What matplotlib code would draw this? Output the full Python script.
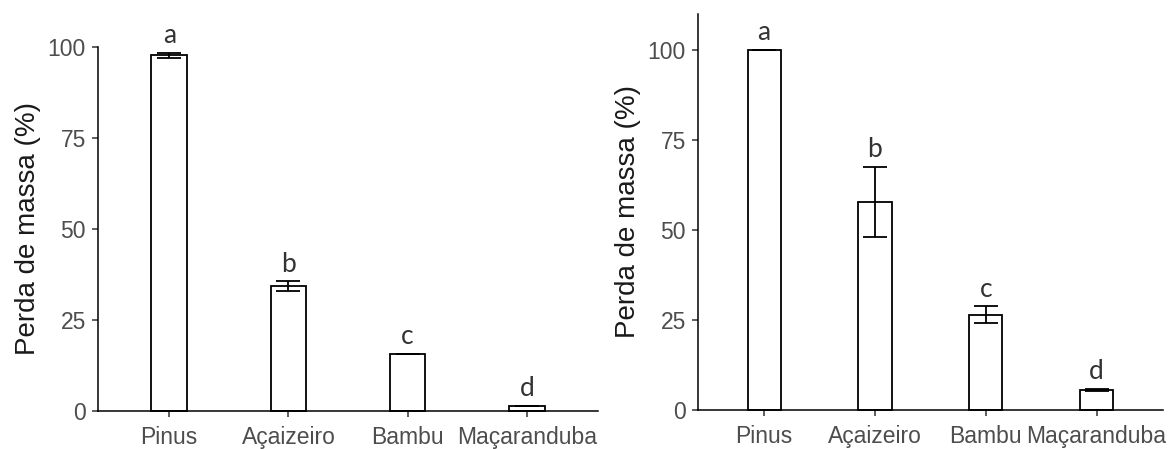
import matplotlib.pyplot as plt
import numpy as np

# data
categorias = ["Pinus", "Açaizeiro", "Bambu", "Maçaranduba"]
letras = ["a", "b", "c", "d"]

perda_esq = [97.6, 34.3, 15.6, 1.4]
erro_esq = [0.8, 1.3, 0.0, 0.0]

perda_dir = [100.0, 57.8, 26.5, 5.5]
erro_dir = [0.0, 9.8, 2.3, 0.3]

yticks = [0, 25, 50, 75, 100]

W, H = 1171, 449
fig = plt.figure(figsize=(W / 100, H / 100), dpi=100)

# panel boxes in pixels (left, top, right, bottom)
ax_esq = fig.add_axes([97.7 / W, (H - 411) / H, (598.3 - 97.7) / W, (411 - 46.7) / H])
ax_dir = fig.add_axes([697.7 / W, (H - 410) / H, (1163 - 697.7) / W, (410 - 14) / H])


def painel(ax, medias, erros, ymax):
    x = np.arange(len(categorias))
    ax.bar(x, medias, width=0.3, color="white", edgecolor="black",
           linewidth=1.3, zorder=2, clip_on=False)
    ax.errorbar(x, medias, yerr=erros, fmt="none", ecolor="black",
                elinewidth=1.3, capsize=8.3, capthick=1.3, zorder=3, clip_on=False)

    # significance letters above bars
    for xi, m, e, l in zip(x, medias, erros, letras):
        ax.annotate(l, (xi, m + e), xytext=(0, 7), textcoords="offset points",
                    ha="center", va="baseline", fontsize=19, family="Lato",
                    color="#333333", annotation_clip=False)

    ax.set_xlim(-0.6, len(categorias) - 0.4)
    ax.set_ylim(0, ymax)
    ax.set_xticks(x)
    ax.set_xticklabels(categorias)
    ax.set_yticks(yticks)

    for s in ["top", "right"]:
        ax.spines[s].set_visible(False)
    for s in ["left", "bottom"]:
        ax.spines[s].set_linewidth(1.1)
        ax.spines[s].set_color("black")

    ax.tick_params(axis="both", direction="out", length=4.5, width=1.1,
                   color="#333333", labelsize=16.5, labelcolor="#4D4D4D")
    ax.tick_params(axis="x", pad=6)
    ax.tick_params(axis="y", pad=4)
    for t in ax.get_xticklabels() + ax.get_yticklabels():
        t.set_family("Liberation Sans")

    ax.set_ylabel("Perda de massa (%)", fontsize=20, family="Liberation Sans",
                  color="#1a1a1a", labelpad=5)


painel(ax_esq, perda_esq, erro_esq, 100)
painel(ax_dir, perda_dir, erro_dir, 110)

fig.savefig("out.png", dpi=100, facecolor="white")
